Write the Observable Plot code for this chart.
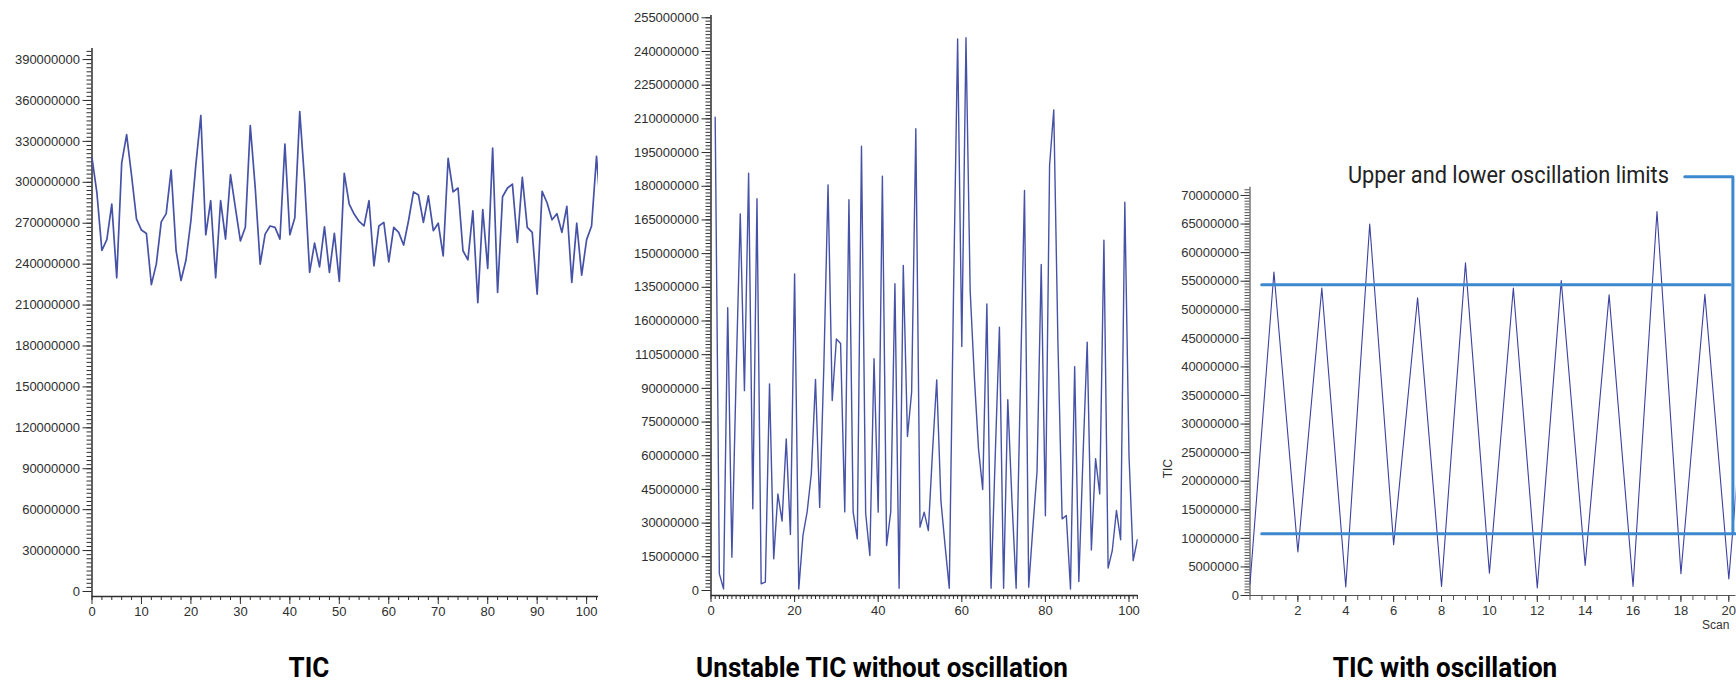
<!DOCTYPE html>
<html><head><meta charset="utf-8">
<script src="https://cdn.jsdelivr.net/npm/d3@7"></script>
<script src="https://cdn.jsdelivr.net/npm/@observablehq/plot@0.6"></script>
<style>
html,body{margin:0;padding:0;background:#fff;}
#wrap{position:relative;width:1736px;height:684px;overflow:hidden;background:#fff;}
.title{position:absolute;top:668px;font-family:Roboto,"Liberation Sans",sans-serif;font-weight:700;font-size:28px;line-height:1;color:#000;white-space:nowrap;transform:translate(-50%,-50%) scaleX(0.93);}
</style></head><body><div id="wrap"></div>
<script>
// ---------- DATA ----------
// Panel 1: TIC (values in millions), scans 0..103
const ticStable = [318,292,250,258,284,230,314,335,305,273,265,262.5,225,240,271,277,309,250,228,243,
  272,313,349,261.5,286.5,230,286.5,258.4,305.6,281,257,267,341.6,296,240,262,268,267,258.4,328,
  261.5,274,351.8,300,234,255.4,238,267.4,234,262.5,227.3,306.6,284,276.7,271.3,268,286.5,238.8,268,270.6,
  241.7,267,263.3,254,272,293,290.7,270.6,290,264.5,270,246,317.6,293,295.8,249.8,243.2,279,211.8,280,
  236.8,325,219.2,289.4,295.8,298.7,256,303.6,267,263.3,218,293.4,285,272.5,277,263.3,282.3,226.6,270,232,
  258,268,319,272];
const stableYTicks = [0,30,60,90,120,150,180,210,240,270,300,330,360,390];
const stableXTicks = [0,10,20,30,40,50,60,70,80,90,100];

// Panel 2: unstable TIC without oscillation (millions), scans 1..102
const ticUnstable = [210.7,7.4,0.7,125.9,14.8,95,167.7,89,185.8,36.4,
  174.4,3,3.7,92,14.1,43,30.9,67.5,24.9,141,
  0.7,24.5,35,52,94,37,100,180.6,84.6,112,
  110,35,174,35,23,197.8,34.4,15.6,103.2,34.9,
  184.5,20,35,136.6,1,144.7,68.6,88.3,205.6,28.2,
  34.9,26.7,62,93.8,40,20,1,130,245.6,108.6,
  246.1,133.6,95,63,45,127.6,1,60,117.2,1,
  84.9,40,1,90,178.1,1.5,28,53,145.2,33.3,
  189.2,214,110,31.9,33.4,0.7,99.7,4,60,110.6,
  18,58.7,43,156,10,17.8,35.6,22.6,172.9,60,
  13.3,22.6];
const unstableFirstScan = 1;
const unstableYTicks = [0,15,30,45,60,75,90,105,120,135,150,165,180,195,210,225,240,255];
const unstableYLabels = ["0","15000000","30000000","45000000","60000000","75000000","90000000","110500000",
  "160000000","135000000","150000000","165000000","180000000","195000000","210000000","225000000","240000000","255000000"];
const unstableXTicks = [0,20,40,60,80,100];

// Panel 3: TIC with oscillation (millions), scans 0..21
const ticOscillating = [2,56.6,7.6,53.8,1.5,65.0,8.9,52.1,1.6,58.2,3.9,53.8,1.3,55.1,5.25,52.6,1.6,67.2,3.8,52.7,2.9,54];
const oscYTicks = [0,5,10,15,20,25,30,35,40,45,50,55,60,65,70];
const oscXTicks = [2,4,6,8,10,12,14,16,18,20];
const oscLimits = [54.4, 10.8];          // upper, lower limit (millions)
const limitStartScan = 0.49;
const limitEndScans = [20.06, 20.3];
const bracketScans = [18.16, 20.17];
const bracketTop = 73.3;
const annotation = "Upper and lower oscillation limits";
const annotationScan = 17.5, annotationLevel = 73.5;
const yLabelLevel = 22.2, xLabelScan = 19.45;

const titles = ["TIC", "Unstable TIC without oscillation", "TIC with oscillation"];

// ---------- HELPERS ----------
const M = 1e6;
const wrap = document.getElementById("wrap");
const lineColor = "#4652a6";
const axisColor = "#2e2e2e";
const font = "'Liberation Sans', Arial, sans-serif";
function place(svg, left) {
  svg.style.position = "absolute"; svg.style.left = left + "px"; svg.style.top = "0px";
  wrap.appendChild(svg);
}
const fmt = d => String(Math.round(d));

// ---------- PANEL 1 ----------
const stableRows = ticStable.map((v, i) => ({scan: i, tic: v * M}));
const p1 = Plot.plot({
  width: 620, height: 640,
  marginLeft: 91.5, marginRight: 22, marginTop: 48, marginBottom: 44,
  x: {domain: [0, 102.4], label: null},
  y: {domain: [-3.67 * M, 398.1 * M], label: null},
  style: {fontFamily: font, fontSize: "13px", color: axisColor, background: "transparent"},
  marks: [
    Plot.axisY(d3.range(0, 397, 3).map(d => d * M), {tickSize: 5, tickFormat: () => "", label: null, color: axisColor}),
    Plot.axisY(stableYTicks.map(d => d * M), {tickSize: 9, tickPadding: 3, tickFormat: fmt, label: null, color: axisColor, fontSize: 13}),
    Plot.axisX(d3.range(0, 103, 2), {tickSize: 4, tickFormat: () => "", label: null, color: axisColor}),
    Plot.axisX(stableXTicks, {tickSize: 8, tickPadding: 2, label: null, color: axisColor, fontSize: 13}),
    Plot.ruleX([0], {stroke: axisColor, strokeWidth: 1.5}),
    Plot.ruleY([-3.67 * M], {stroke: axisColor, strokeWidth: 1.5}),
    Plot.line(stableRows, {x: "scan", y: "tic", stroke: lineColor, strokeWidth: 1.7, clip: true})
  ]
});
place(p1, 0);

// ---------- PANEL 2 ----------
const unstableRows = ticUnstable.map((v, i) => ({scan: i + unstableFirstScan, tic: v * M}));
const p2 = Plot.plot({
  width: 530, height: 640,
  marginLeft: 90.5, marginRight: 12.3, marginTop: 15, marginBottom: 45,
  x: {domain: [0, 102.2], label: null},
  y: {domain: [-2.226 * M, 256.02 * M], label: null},
  style: {fontFamily: font, fontSize: "13px", color: axisColor, background: "transparent"},
  marks: [
    Plot.axisY(d3.range(0, 256, 1.5).map(d => d * M), {tickSize: 5, tickFormat: () => "", label: null, color: axisColor}),
    Plot.axisY(unstableYTicks.map(d => d * M), {tickSize: 9, tickPadding: 3, tickFormat: (d, i) => unstableYLabels[i], label: null, color: axisColor, fontSize: 13}),
    Plot.axisX(d3.range(0, 103, 1), {tickSize: 4, tickFormat: () => "", label: null, color: axisColor}),
    Plot.axisX(unstableXTicks, {tickSize: 7, tickPadding: 3, label: null, color: axisColor, fontSize: 13}),
    Plot.ruleX([0], {stroke: axisColor, strokeWidth: 1.5}),
    Plot.ruleY([-2.226 * M], {stroke: axisColor, strokeWidth: 1.5}),
    Plot.line(unstableRows, {x: "scan", y: "tic", stroke: lineColor, strokeWidth: 1.4, clip: true})
  ]
});
place(p2, 620);

// ---------- PANEL 3 ----------
const oscRows = ticOscillating.map((v, i) => ({scan: i, tic: v * M}));
const limitRows = oscLimits.flatMap((v, k) => [
  {k, scan: limitStartScan, tic: v * M}, {k, scan: limitEndScans[k], tic: v * M}]);
const bracketRows = [
  {scan: bracketScans[0], tic: bracketTop * M},
  {scan: bracketScans[1], tic: bracketTop * M},
  {scan: bracketScans[1], tic: oscLimits[1] * M}];
const p3 = Plot.plot({
  width: 586, height: 640,
  marginLeft: 99.5, marginRight: 0.5, marginTop: 186.7, marginBottom: 45,
  x: {domain: [0, 20.3], label: null},
  y: {domain: [0, 71.45 * M], label: null},
  style: {fontFamily: font, fontSize: "13px", color: axisColor, background: "transparent", overflow: "visible"},
  marks: [
    Plot.axisY(d3.range(0, 71.5, 0.5).map(d => d * M), {tickSize: 5, tickFormat: () => "", label: null, color: "#555"}),
    Plot.axisY(oscYTicks.map(d => d * M), {tickSize: 9, tickPadding: 2, tickFormat: fmt, label: null, color: "#333", fontSize: 13}),
    Plot.axisX(d3.range(0, 20.3, 0.5), {tickSize: 5, tickFormat: () => "", label: null, color: "#555"}),
    Plot.axisX(oscXTicks, {tickSize: 7, tickPadding: 3, label: null, color: "#333", fontSize: 13}),
    Plot.ruleX([0], {stroke: "#555", strokeWidth: 1.2}),
    Plot.ruleY([0], {stroke: "#555", strokeWidth: 1.2}),
    Plot.line(oscRows, {x: "scan", y: "tic", stroke: "#3b41a0", strokeWidth: 1.1, clip: true}),
    Plot.line(limitRows, {x: "scan", y: "tic", z: "k", stroke: "#3d89cf", strokeWidth: 3}),
    Plot.line(bracketRows, {x: "scan", y: "tic", stroke: "#3d89cf", strokeWidth: 3}),
    Plot.text([annotation], {x: annotationScan, y: annotationLevel * M, text: d => d, textAnchor: "end", lineAnchor: "middle",
      fontFamily: "Roboto, sans-serif", fontSize: 24, fill: "#222"}),
    Plot.text(["TIC"], {x: 0, y: yLabelLevel * M, text: d => d, dx: -81.5, rotate: -90, fontSize: 12, fill: "#333"}),
    Plot.text(["Scan"], {x: xLabelScan, frameAnchor: "bottom", text: d => d, dy: 33, fontSize: 12, fill: "#333"})
  ]
});
p3.style.overflow = "visible";
place(p3, 1150);
// condense the annotation text to the reference width
p3.querySelectorAll("text").forEach(t => {
  if (t.textContent === annotation) { t.setAttribute("textLength", 321); t.setAttribute("lengthAdjust", "spacingAndGlyphs"); }
});

// ---------- TITLES ----------
const titleCenters = [309, 882, 1445];
titles.forEach((t, i) => {
  const d = document.createElement("div");
  d.className = "title"; d.textContent = t; d.style.left = titleCenters[i] + "px";
  wrap.appendChild(d);
});
</script></body></html>
